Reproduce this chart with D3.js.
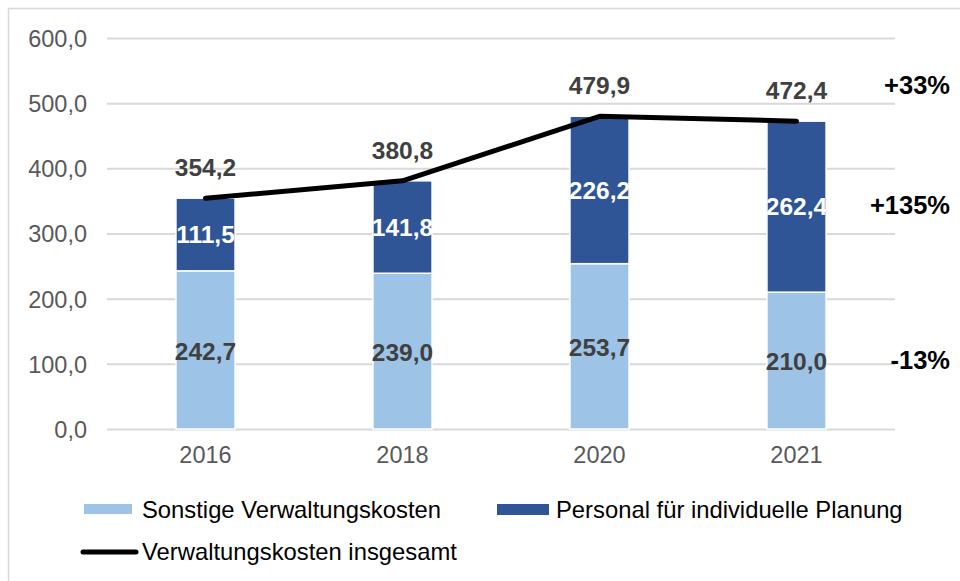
<!DOCTYPE html>
<html><head><meta charset="utf-8">
<script src="https://cdn.jsdelivr.net/npm/d3@7"></script>
<style>
html,body{margin:0;padding:0;background:#fff;}
svg{display:block;font-family:"Liberation Sans",Arial,sans-serif;}
</style></head>
<body>
<svg id="chart" width="960" height="581"></svg>
<script>
const years = ["2016","2018","2020","2021"];
const sonstige = [242.7, 239.0, 253.7, 210.0];
const personal = [111.5, 141.8, 226.2, 262.4];
const insgesamt = [354.2, 380.8, 479.9, 472.4];
const yTicks = [0,100,200,300,400,500,600];
const changeLabels = ["+33%","+135%","-13%"];
const seriesNames = ["Sonstige Verwaltungskosten","Personal für individuelle Planung","Verwaltungskosten insgesamt"];

const colLight = "#9dc3e6", colDark = "#2f5597";
const svg = d3.select("#chart");
const fmt = v => d3.format(".1f")(v).replace(".", ",");

// frame
svg.append("rect").attr("x",8.5).attr("y",8.5).attr("width",1000).attr("height",1000)
  .attr("fill","none").attr("stroke","#d9d9d9").attr("stroke-width",1.5);

const x = d3.scaleBand().domain(years).range([107,895]).paddingInner(0.7).paddingOuter(0.35);
const y = d3.scaleLinear().domain([0,600]).range([429,38]);

// grid
const yAxis = d3.axisLeft(y).tickValues(yTicks).tickSize(-(895-107)).tickFormat(fmt).tickPadding(20);
const gy = svg.append("g").attr("transform","translate(107,0)").call(yAxis);
gy.select(".domain").remove();
gy.selectAll(".tick line").attr("stroke","#d9d9d9").attr("stroke-width",2);
gy.selectAll(".tick text").attr("fill","#595959").attr("font-size",23.5)
  .attr("font-family","Liberation Sans, Arial, sans-serif").attr("dy","0.36em");

// x axis labels
const xAxis = d3.axisBottom(x).tickSize(0).tickPadding(17);
const gx = svg.append("g").attr("transform","translate(0,429)").call(xAxis);
gx.select(".domain").remove();
gx.selectAll(".tick text").attr("fill","#595959").attr("font-size",23.5)
  .attr("font-family","Liberation Sans, Arial, sans-serif");

// bars
const bw = x.bandwidth();
svg.append("g").selectAll("rect").data(years).join("rect")
  .attr("x",d=>x(d)).attr("width",bw)
  .attr("y",(d,i)=>y(sonstige[i])).attr("height",(d,i)=>y(0)-y(sonstige[i]))
  .attr("fill",colLight).attr("stroke","#fff").attr("stroke-width",1.5);
svg.append("g").selectAll("rect").data(years).join("rect")
  .attr("x",d=>x(d)).attr("width",bw)
  .attr("y",(d,i)=>y(sonstige[i]+personal[i])).attr("height",(d,i)=>y(sonstige[i])-y(sonstige[i]+personal[i]))
  .attr("fill",colDark).attr("stroke","#fff").attr("stroke-width",1.5);

// line
const line = d3.line().x((d,i)=>x(years[i])+bw/2).y(d=>y(d));
svg.append("path").datum(insgesamt).attr("d",line).attr("fill","none")
  .attr("stroke","#000").attr("stroke-width",5).attr("stroke-linecap","round").attr("stroke-linejoin","round");

// labels
const lab = svg.append("g").attr("font-weight","bold").attr("font-size",24.5).attr("text-anchor","middle");
lab.selectAll(".ls").data(years).join("text")
  .attr("x",d=>x(d)+bw/2).attr("y",(d,i)=>y(sonstige[i]/2)+1).attr("dy","0.36em")
  .attr("fill","#404040").text((d,i)=>fmt(sonstige[i]));
lab.selectAll(".ld").data(years).join("text")
  .attr("x",d=>x(d)+bw/2).attr("y",(d,i)=>y(sonstige[i]+personal[i]/2)).attr("dy","0.36em")
  .attr("fill","#fff").text((d,i)=>fmt(personal[i]));
lab.selectAll(".lt").data(years).join("text")
  .attr("x",d=>x(d)+bw/2).attr("y",(d,i)=>y(insgesamt[i])-31).attr("dy","0.36em")
  .attr("fill","#404040").text((d,i)=>fmt(insgesamt[i]));

// change labels
const chY = [85, 205, 360];
svg.append("g").attr("font-weight","bold").attr("font-size",25.5).attr("text-anchor","end")
  .selectAll("text").data(changeLabels).join("text")
  .attr("x",950).attr("y",(d,i)=>chY[i]).attr("dy","0.36em").attr("fill","#000").text(d=>d);

// legend
const lg = svg.append("g").attr("font-size",23.8).attr("fill","#000");
lg.append("rect").attr("x",84).attr("y",504).attr("width",48).attr("height",10).attr("fill",colLight);
lg.append("text").attr("x",142).attr("y",509).attr("dy","0.36em").text(seriesNames[0]);
lg.append("rect").attr("x",497).attr("y",504).attr("width",52).attr("height",11).attr("fill",colDark);
lg.append("text").attr("x",556).attr("y",509).attr("dy","0.36em").text(seriesNames[1]);
lg.append("line").attr("x1",83).attr("x2",136).attr("y1",552).attr("y2",552)
  .attr("stroke","#000").attr("stroke-width",5).attr("stroke-linecap","round");
lg.append("text").attr("x",142).attr("y",551).attr("dy","0.36em").text(seriesNames[2]);
</script>
</body></html>
